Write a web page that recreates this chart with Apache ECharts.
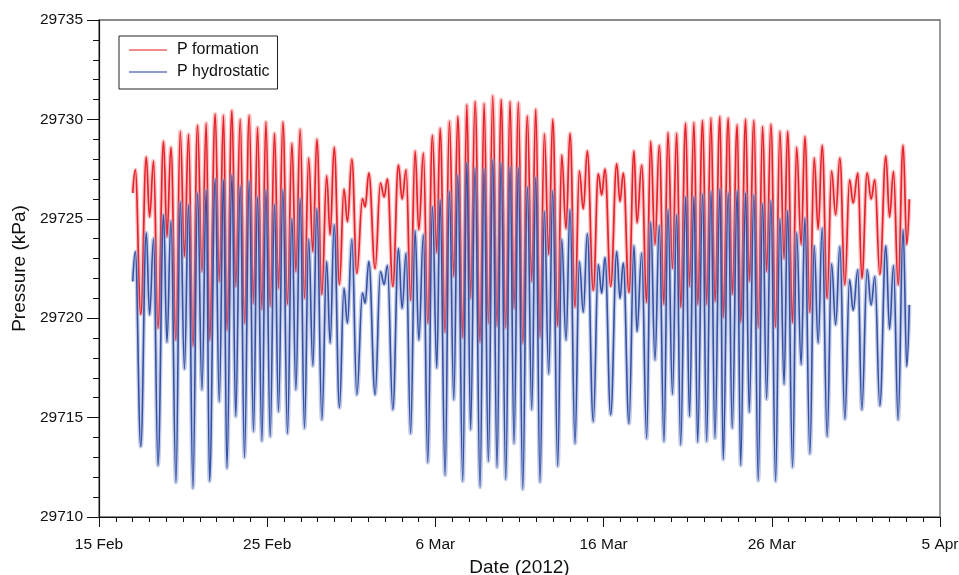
<!DOCTYPE html>
<html><head><meta charset="utf-8">
<script src="https://cdn.jsdelivr.net/npm/echarts@6/dist/echarts.min.js"></script>
<style>html,body{margin:0;padding:0;background:#fff}#c{width:959px;height:575px}</style>
</head><body><div id="c"></div>
<script>
// x tick labels (every 10 days from 15 Feb 2012)
const tickLabels = ['15 Feb', '25 Feb', '6 Mar', '16 Mar', '26 Mar', '5 Apr'];

// time of each tidal high / low, in days since 15 Feb 2012 00:00
const dayOffsets = [
 2.008,2.157,2.484,2.810,3.007,3.244,3.506,3.838,4.040,4.278,
 4.575,4.831,5.080,5.324,5.585,5.859,6.120,6.376,6.572,6.910,
 7.148,7.403,7.605,7.903,8.128,8.396,8.651,8.930,9.186,9.424,
 9.685,9.923,10.178,10.434,10.671,10.933,11.206,11.468,11.705,11.961,
 12.216,12.466,12.715,12.953,13.250,13.535,13.743,13.981,14.296,14.563,
 14.771,15.033,15.330,15.663,15.823,16.043,16.417,16.732,16.952,17.148,
 17.469,17.802,18.021,18.259,18.526,18.794,19.014,19.287,19.548,19.822,
 20.083,20.279,20.577,20.832,21.094,21.331,21.628,21.866,22.092,22.359,
 22.656,22.894,23.149,23.411,23.666,23.904,24.183,24.439,24.676,24.932,
 25.193,25.467,25.728,25.966,26.221,26.477,26.738,26.976,27.273,27.510,
 27.766,28.004,28.301,28.556,28.794,29.031,29.388,29.685,29.887,30.083,
 30.422,30.779,30.975,31.171,31.509,31.806,31.985,32.264,32.561,32.799,
 33.054,33.310,33.589,33.827,34.094,34.343,34.581,34.878,35.104,35.371,
 35.591,35.888,36.126,36.382,36.619,36.916,37.112,37.410,37.647,37.944,
 38.146,38.443,38.657,38.937,39.192,39.453,39.691,39.947,40.226,40.481,
 40.731,40.939,41.236,41.474,41.747,41.967,42.264,42.520,42.757,42.995,
 43.292,43.553,43.797,44.047,44.344,44.623,44.837,45.116,45.354,45.668,
 45.906,46.126,46.423,46.780,47.000,47.237,47.510,47.807,48.027,48.176
];

// P formation (kPa)
const pFormation = [
 29726.3,29727.46,29720.2,29728.1,29725.1,29727.9,29719.5,29728.9,29724.1,29728.6,
 29718.9,29729.4,29723.1,29729.25,29718.6,29729.7,29722.35,29729.8,29718.9,29730.27,
 29721.85,29730.2,29719.4,29730.44,29721.6,29730.0,29719.75,29730.2,29720.75,29729.6,
 29720.45,29729.86,29720.6,29729.3,29721.5,29729.86,29720.7,29728.8,29722.35,29729.5,
 29721.0,29728.05,29723.35,29729.0,29721.2,29727.16,29724.2,29728.6,29721.7,29726.5,
 29724.86,29728.0,29722.26,29726.0,29725.6,29727.3,29722.5,29726.8,29726.1,29727.0,
 29721.6,29727.7,29726.0,29727.46,29720.9,29728.4,29724.45,29728.3,29719.75,29729.2,
 29723.3,29729.55,29719.3,29729.9,29722.1,29730.14,29719.03,29730.73,29721.0,29730.9,
 29718.8,29730.8,29719.75,29731.18,29719.6,29731.0,29719.53,29730.9,29720.5,29730.84,
 29718.75,29730.17,29721.85,29730.5,29719.05,29729.27,29723.2,29730.0,29719.6,29728.2,
 29724.5,29729.3,29720.55,29727.4,29725.5,29728.4,29721.4,29727.26,29726.2,29727.5,
 29721.6,29727.76,29725.87,29727.3,29721.3,29728.4,29724.8,29727.7,29720.8,29728.9,
 29723.7,29728.7,29720.7,29729.33,29722.5,29729.3,29720.55,29729.8,29721.6,29729.84,
 29720.7,29729.94,29720.7,29730.06,29720.84,29730.14,29720.05,29730.06,29721.2,29729.72,
 29719.8,29730.0,29721.85,29729.94,29719.53,29729.64,29722.35,29729.75,29719.55,29729.4,
 29723.0,29729.4,29719.78,29728.6,29723.7,29729.13,29720.3,29728.05,29724.48,29728.7,
 29721.0,29727.4,29725.2,29728.05,29721.68,29726.96,29725.8,29727.3,29722.0,29727.3,
 29726.0,29726.96,29722.2,29728.16,29725.1,29727.37,29721.68,29728.7,29723.7,29725.98
];

// P hydrostatic (kPa)
const pHydrostatic = [
 29721.85,29723.35,29713.55,29724.3,29720.17,29724.0,29712.6,29725.2,29718.8,29724.9,
 29711.74,29725.85,29717.45,29725.7,29711.45,29726.3,29716.4,29726.45,29711.8,29727.0,
 29715.8,29726.95,29712.46,29727.2,29715.06,29726.65,29713.0,29726.9,29714.3,29726.1,
 29713.83,29726.45,29714.05,29725.7,29715.3,29726.45,29714.2,29725.0,29716.4,29726.0,
 29714.47,29723.97,29717.6,29725.5,29714.9,29722.85,29718.75,29724.7,29715.5,29721.5,
 29719.75,29723.97,29716.15,29721.26,29720.76,29722.85,29716.15,29722.35,29721.7,29722.65,
 29715.4,29723.5,29720.5,29723.27,29714.2,29724.4,29718.9,29724.2,29712.74,29725.6,
 29717.5,29725.95,29712.1,29726.37,29715.9,29727.2,29711.8,29727.8,29714.4,29727.54,
 29711.5,29727.5,29712.8,29727.96,29712.5,29727.8,29711.9,29727.6,29713.7,29727.57,
 29711.4,29726.6,29715.4,29727.07,29711.76,29725.36,29717.2,29726.4,29712.55,29723.97,
 29718.9,29725.45,29713.7,29722.85,29720.3,29724.24,29714.8,29722.7,29721.26,29723.05,
 29715.14,29723.35,29721.0,29722.77,29714.7,29723.64,29719.33,29723.27,29713.95,29724.83,
 29717.9,29724.66,29713.8,29725.45,29716.17,29725.2,29713.63,29726.1,29715.06,29726.1,
 29713.77,29726.24,29713.8,29726.37,29713.97,29726.5,29712.9,29726.3,29714.47,29726.4,
 29712.6,29726.3,29715.27,29726.2,29711.83,29725.75,29715.93,29725.9,29711.8,29725.0,
 29716.68,29725.4,29712.5,29724.3,29717.67,29725.03,29713.18,29723.64,29718.75,29724.53,
 29714.05,29722.73,29719.67,29723.6,29714.93,29721.93,29720.4,29722.43,29715.4,29722.43,
 29720.67,29722.1,29715.6,29723.64,29719.45,29722.65,29714.9,29724.44,29717.57,29720.67
];

const seriesNames = ['P formation', 'P hydrostatic'];

const pair = (vals) => dayOffsets.map((d, i) => [d, vals[i]]);
const fData = pair(pFormation);
const hData = pair(pHydrostatic);

const lineSeries = (name, data, color, width, opacity, z) => ({
  name, type: 'line', data, showSymbol: false, symbol: 'none',
  smooth: 0.4, smoothMonotone: 'x', z,
  lineStyle: { color, width, opacity },
  emphasis: { disabled: true }, silent: true
});

const chart = echarts.init(document.getElementById('c'), null, { renderer: 'canvas' });
chart.setOption({
  animation: false,
  backgroundColor: '#fff',
  textStyle: { fontFamily: 'Liberation Sans, Arial, Helvetica, sans-serif' },
  grid: {
    left: 99, right: 19, top: 20, bottom: 58,
    outerBoundsMode: 'none', containLabel: false,
    show: true, borderColor: '#666', borderWidth: 1.3, backgroundColor: 'transparent'
  },
  legend: {
    orient: 'vertical', left: 119, top: 36,
    padding: [6, 8, 9, 10], itemGap: 6, itemWidth: 38, itemHeight: 16,
    backgroundColor: '#fff', borderColor: '#222', borderWidth: 1, borderRadius: 0,
    textStyle: { fontSize: 16, color: '#111', lineHeight: 16, padding: [0, 0, 0, 5] },
    data: [
      { name: seriesNames[0], icon: 'path://M0,0 L38,0 L38,2 L0,2 Z', itemStyle: { color: '#f28a8c' } },
      { name: seriesNames[1], icon: 'path://M0,0 L38,0 L38,2 L0,2 Z', itemStyle: { color: '#8a9bd0' } }
    ],
    selectedMode: false
  },
  xAxis: {
    type: 'value', min: 0, max: 50, interval: 10,
    name: 'Date (2012)', nameLocation: 'middle', nameGap: 38,
    nameTextStyle: { fontSize: 19, color: '#111' },
    axisLine: { show: true, onZero: false, lineStyle: { color: '#111', width: 1.2 } },
    axisTick: { show: true, length: 10, lineStyle: { color: '#111', width: 1 } },
    minorTick: { show: true, splitNumber: 10, length: 5, lineStyle: { color: '#111', width: 1 } },
    splitLine: { show: false }, minorSplitLine: { show: false },
    axisLabel: { fontSize: 15.5, color: '#111', margin: 20, formatter: v => tickLabels[Math.round(v / 10)] }
  },
  yAxis: {
    type: 'value', min: 29710, max: 29735, interval: 5,
    name: 'Pressure (kPa)', nameLocation: 'middle', nameGap: 64, nameRotate: 90,
    nameTextStyle: { fontSize: 19, color: '#111' },
    axisLine: { show: true, onZero: false, lineStyle: { color: '#111', width: 1.2 } },
    axisTick: { show: true, length: 12, lineStyle: { color: '#111', width: 1 } },
    minorTick: { show: true, splitNumber: 5, length: 6, lineStyle: { color: '#111', width: 1 } },
    splitLine: { show: false }, minorSplitLine: { show: false },
    axisLabel: { fontSize: 15.5, color: '#111', margin: 16, formatter: v => String(v) }
  },
  series: [
    lineSeries('P formation halo', fData, '#f27e80', 4.2, 0.45, 1),
    lineSeries(seriesNames[0], fData, '#e8222a', 1.7, 1, 2),
    lineSeries('P hydrostatic halo', hData, '#8294cc', 4.2, 0.45, 3),
    lineSeries(seriesNames[1], hData, '#3451a6', 1.6, 1, 4)
  ]
});
</script>
</body></html>
